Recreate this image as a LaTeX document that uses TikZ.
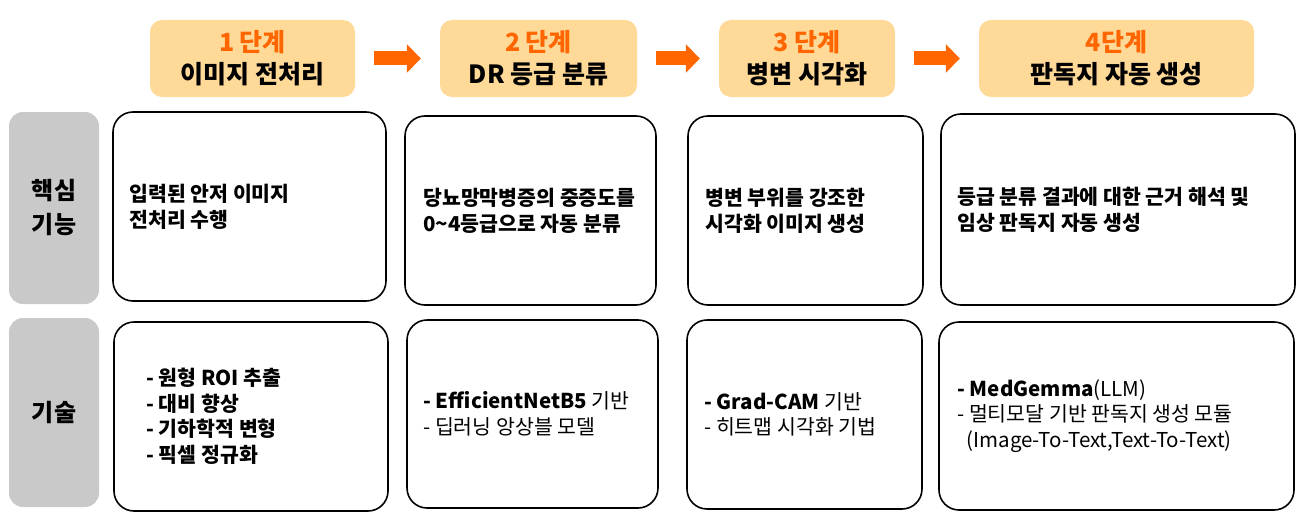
\documentclass[tikz,border=0pt]{standalone}
\usepackage{fontspec}
\setmainfont{Noto Sans CJK KR}
\usetikzlibrary{arrows.meta,positioning}
\definecolor{step-orange}{HTML}{FF6600}
\definecolor{step-fill}{HTML}{FFD998}
\definecolor{label-gray}{HTML}{C9C9C9}

\begin{document}
\begin{tikzpicture}[x=1pt,y=-1pt,
    stepbox/.style={fill=step-fill,rounded corners=12pt,inner sep=0pt,minimum height=77pt,align=center,font=\bfseries\fontsize{25}{32}\selectfont},
    labelbox/.style={fill=label-gray,rounded corners=14pt,inner sep=0pt,minimum width=90pt,align=center,font=\bfseries\fontsize{24}{34}\selectfont},
    cardbox/.style={draw,line width=1.6pt,rounded corners=20pt,inner sep=0pt},
    cardtext/.style={inner sep=0pt,align=left,anchor=west,font=\fontsize{20.5}{25.5}\selectfont},
    flow/.style={step-orange,line width=14pt,-{Triangle[length=14pt,width=28pt]},shorten <=18.5pt,shorten >=19pt}]
    \useasboundingbox (0,0) rectangle (1311,527);
    \node[stepbox,minimum width=205pt] (s1) at (252.5,58.5) {{\color{step-orange}1 단계}\\이미지 전처리};
    \node[stepbox,minimum width=197pt] (s2) at (538.5,58.5) {{\color{step-orange}2 단계}\\DR 등급 분류};
    \node[stepbox,minimum width=176pt] (s3) at (807,58.5) {{\color{step-orange}3 단계}\\병변 시각화};
    \node[stepbox,minimum width=275pt] (s4) at (1116.5,58.5) {{\color{step-orange}4단계}\\판독지 자동 생성};
    \foreach \a/\b in {s1/s2,s2/s3,s3/s4}
      \draw[flow] (\a) -- (\b);
    \node[labelbox,minimum height=192pt] (func) at (54,208) {핵심\\기능};
    \node[labelbox,minimum height=189pt] (tech) at (54,412.5) {기술};
    \node[cardbox,minimum width=273pt,minimum height=189pt] (f1) at (249.5,206.5) {};
    \node[cardbox,minimum width=251pt,minimum height=189pt] (f2) at (530.5,210.5) {};
    \node[cardbox,minimum width=235pt,minimum height=189pt] (f3) at (805.5,210.5) {};
    \node[cardbox,minimum width=354pt,minimum height=191pt] (f4) at (1118,209.5) {};
    \node[cardbox,minimum width=274pt,minimum height=189pt] (t1) at (251,416.5) {};
    \node[cardbox,minimum width=251pt,minimum height=188pt] (t2) at (532.5,414) {};
    \node[cardbox,minimum width=235pt,minimum height=189pt] (t3) at (804.5,414.5) {};
    \node[cardbox,minimum width=355pt,minimum height=188pt] (t4) at (1116.5,416) {};
    \node[cardtext,font=\bfseries\fontsize{20.5}{26}\selectfont,right=17pt of f1.west] (f1txt) {입력된 안저 이미지\\전처리 수행};
    \node[cardtext,font=\bfseries\fontsize{20.5}{26}\selectfont,right=19pt of f2.west] (f2txt) {당뇨망막병증의 중증도를\\0\textasciitilde4등급으로 자동 분류};
    \node[cardtext,font=\bfseries\fontsize{20.5}{26}\selectfont,right=18pt of f3.west] (f3txt) {병변 부위를 강조한\\시각화 이미지 생성};
    \node[cardtext,font=\bfseries\fontsize{20.5}{26}\selectfont,right=17pt of f4.west] (f4txt) {등급 분류 결과에 대한 근거 해석 및\\임상 판독지 자동 생성};
    \node[cardtext,font=\bfseries\fontsize{20.5}{25.5}\selectfont,right=33pt of t1.west] (t1txt) {- 원형 ROI 추출\\- 대비 향상\\- 기하학적 변형\\- 픽셀 정규화};
    \node[cardtext,right=17pt of t2.west] (t2txt) {\textbf{- EfficientNetB5} 기반\\- 딥러닝 앙상블 모델};
    \node[cardtext,right=18pt of t3.west] (t3txt) {\textbf{- Grad-CAM} 기반\\- 히트맵 시각화 기법};
    \node[cardtext,right=19pt of t4.west] (t4txt) {\textbf{- MedGemma}(LLM)\\- 멀티모달 기반 판독지 생성 모듈\\\hspace*{0.45em}(Image-To-Text,Text-To-Text)};
\end{tikzpicture}
\end{document}
